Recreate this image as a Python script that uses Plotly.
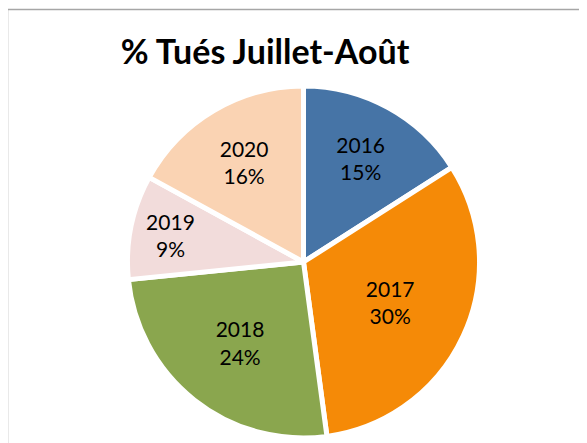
import plotly.graph_objects as go

years = ["2016", "2017", "2018", "2019", "2020"]
pct_values = [15, 30, 24, 9, 16]
slice_colors = ["#4674A6", "#F58A07", "#8AA64E", "#F2DCDB", "#FAD3B3"]
title_text = "% Tués Juillet-Août"

OFF = 8  # browser body margin
W, H = 587 - OFF, 443 - OFF
cx, cy, r = 303.5 - OFF, 262 - OFF, 176

fig = go.Figure(go.Pie(
    labels=years,
    values=pct_values,
    sort=False,
    direction="clockwise",
    rotation=0,
    marker=dict(colors=slice_colors, line=dict(color="white", width=5)),
    texttemplate="%{label}<br>%{value}%",
    textposition="inside",
    insidetextorientation="horizontal",
    textfont=dict(family="Lato", size=21, color="black"),
    hoverinfo="label+value",
    showlegend=False,
    domain=dict(x=[(cx - r) / W, (cx + r) / W], y=[(H - cy - r) / H, (H - cy + r) / H]),
))

fig.update_layout(
    width=W, height=H,
    margin=dict(l=0, r=0, t=0, b=0),
    paper_bgcolor="white",
    title=dict(text="<b>" + title_text + "</b>", x=(265 - OFF) / W, xanchor="center",
               y=1 - (52 - OFF) / H, yanchor="middle",
               font=dict(family="Lato", size=34, color="black")),
    shapes=[dict(type="rect", xref="paper", yref="paper",
                 x0=(7.5 - OFF) / W, x1=1.05, y0=-0.05, y1=1 - (9.5 - OFF) / H,
                 line=dict(color="#A6A6A6", width=1.5), fillcolor="rgba(0,0,0,0)", layer="below")],
)

fig.write_html("out.html")
